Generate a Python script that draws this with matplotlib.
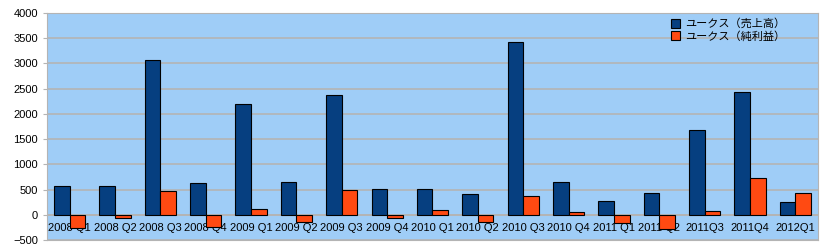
import matplotlib.pyplot as plt
import numpy as np

plt.rcParams['font.family'] = ['Liberation Sans', 'Noto Sans CJK JP']

quarters = ["2008 Q1", "2008 Q2", "2008 Q3", "2008 Q4",
            "2009 Q1", "2009 Q2", "2009 Q3", "2009 Q4",
            "2010 Q1", "2010 Q2", "2010 Q3", "2010 Q4",
            "2011 Q1", "2011 Q2", "2011Q3", "2011Q4", "2012Q1"]
sales = [564, 578, 3065, 637, 2190, 640, 2370, 518,
         518, 418, 3425, 657, 279, 424, 1673, 2436, 259]
profit = [-259, -67, 478, -247, 120, -139, 498, -60,
          100, -139, 378, 46, -159, -279, 80, 737, 424]

fig = plt.figure(figsize=(8.24, 2.5), dpi=100)
ax = fig.add_axes([47 / 824, 10 / 250, 771 / 824, 227 / 250])
ax.set_facecolor('#9fcdf7')

x = np.arange(len(quarters))
w = 0.345
ax.bar(x - w / 2, sales, w, color='#063f80', edgecolor='black', linewidth=0.8,
       label='ユークス（売上高）', zorder=3)
ax.bar(x + w / 2, profit, w, color='#ff4a12', edgecolor='black', linewidth=0.8,
       label='ユークス（純利益）', zorder=3)

ax.set_xlim(-0.5, len(quarters) - 0.5)
ax.set_ylim(-500, 4000)
ax.set_yticks(np.arange(-500, 4001, 500))
ax.yaxis.grid(True, color='#b4b4b4', linewidth=1.2, zorder=1)
ax.axhline(0, color='#b4b4b4', linewidth=1.2, zorder=1)

ax.set_xticks(x)
ax.set_xticklabels(quarters)
ax.tick_params(axis='x', length=0, pad=-12, labelsize=8)
ax.tick_params(axis='y', length=3, color='#b4b4b4', labelsize=8)
for s in ax.spines.values():
    s.set_color('#b4b4b4')

leg = ax.legend(loc='upper right', bbox_to_anchor=(0.97, 1.02), frameon=False,
                handlelength=0.8, handleheight=0.8,
                handletextpad=0.4, labelspacing=0.15,
                prop={'family': ['Noto Sans CJK JP'], 'size': 8})

plt.savefig('out.png', dpi=100)
